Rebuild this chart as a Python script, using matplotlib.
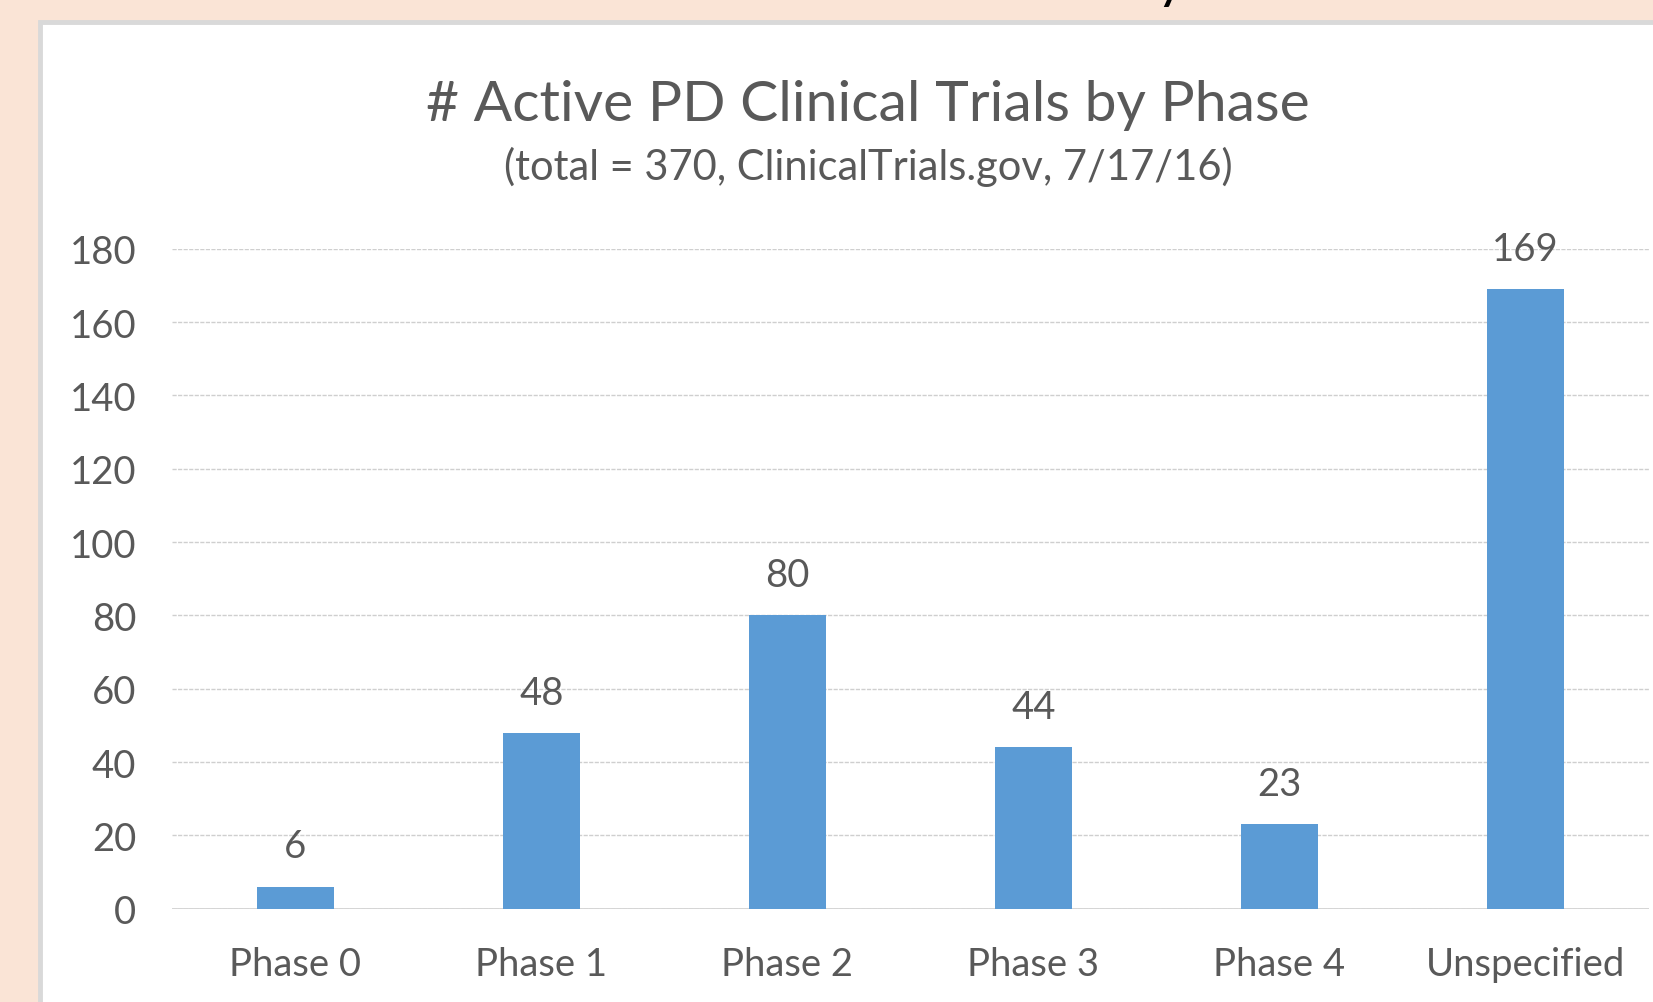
import numpy as np
import matplotlib.pyplot as plt
from matplotlib.patches import Rectangle

plt.rcParams["font.family"] = ["Lato", "DejaVu Sans"]

# data
phases = ["Phase 0", "Phase 1", "Phase 2", "Phase 3", "Phase 4", "Unspecified"]
trials = [6, 48, 80, 44, 23, 169]
yticks = [0, 20, 40, 60, 80, 100, 120, 140, 160, 180]

bar_color = "#5b9bd5"
text_gray = "#595959"

fig = plt.figure(figsize=(16.53, 10.03), dpi=100)
fig.patch.set_facecolor("#fae4d6")

# white slide panel with a light gray frame
panel = Rectangle((0.0242, -0.05), 1.1, 1.027, transform=fig.transFigure,
                  facecolor="white", edgecolor="#d9d9d9", linewidth=3.5, zorder=-10)
fig.patches.append(panel)

# bit of slide heading cut off at the top edge
fig.text(0.708, 1.012, "y", fontsize=30, fontweight="bold", color="black",
         ha="center", va="center")

ax = fig.add_axes([0.1042, 0.093, 0.8931, 0.658])
ax.set_facecolor("none")
x = np.arange(len(phases))
bars = ax.bar(x, trials, width=0.313, color=bar_color, zorder=3)

for xi, v in zip(x, trials):
    ax.annotate(str(v), (xi, v), xytext=(0, 16), textcoords="offset points",
                ha="center", va="bottom", fontsize=27.5, color=text_gray)

ax.set_xlim(-0.5, len(phases) - 0.5)
ax.set_ylim(0, 180)
ax.set_yticks(yticks)
ax.set_xticks(x)
ax.set_xticklabels(phases)
ax.tick_params(axis="both", length=0, labelsize=27.5, labelcolor=text_gray)
ax.tick_params(axis="y", pad=26)
ax.tick_params(axis="x", pad=27)
ax.grid(axis="y", color="#cfcfcf", linewidth=1, linestyle=(0, (3, 1)), zorder=0)
for s in ax.spines.values():
    s.set_visible(False)
ax.axhline(0, color="#cfcfcf", linewidth=1.2, zorder=1)

fig.text(0.525, 0.895, "# Active PD Clinical Trials by Phase", ha="center", va="center",
         fontsize=41, color=text_gray)
fig.text(0.525, 0.834, "(total = 370, ClinicalTrials.gov, 7/17/16)", ha="center",
         va="center", fontsize=30, color=text_gray)

fig.savefig("out.png", dpi=100, facecolor=fig.get_facecolor())
